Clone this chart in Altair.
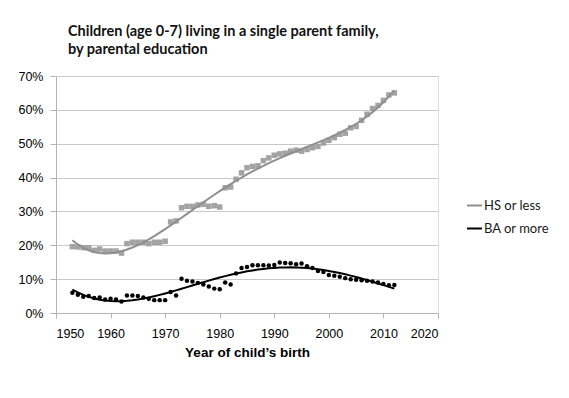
import altair as alt
import numpy as np
import pandas as pd

# ---- data ----
years = [1953, 1954, 1955, 1956, 1957, 1958, 1959, 1960, 1961, 1962,
         1963, 1964, 1965, 1966, 1967, 1968, 1969, 1970, 1971, 1972,
         1973, 1974, 1975, 1976, 1977, 1978, 1979, 1980, 1981, 1982,
         1983, 1984, 1985, 1986, 1987, 1988, 1989, 1990, 1991, 1992,
         1993, 1994, 1995, 1996, 1997, 1998, 1999, 2000, 2001, 2002,
         2003, 2004, 2005, 2006, 2007, 2008, 2009, 2010, 2011, 2012]

hs_or_less = [19.6, 19.5, 19.3, 19.3, 18.5, 18.9, 18.3, 18.3, 18.3, 17.7,
              20.5, 20.9, 20.9, 20.9, 20.5, 20.9, 20.9, 21.2, 26.9, 27.2,
              31.1, 31.5, 31.5, 31.9, 32.1, 31.5, 31.7, 31.3, 37.0, 37.2,
              39.5, 41.4, 42.9, 43.3, 43.5, 45.0, 45.8, 46.6, 47.0, 47.2,
              47.8, 48.1, 47.8, 48.3, 48.8, 49.2, 50.2, 51.0, 51.8, 52.8,
              53.1, 54.7, 55.1, 56.9, 58.7, 60.4, 61.3, 62.8, 64.4, 65.0]

ba_or_more = [6.0, 5.4, 4.8, 5.0, 4.4, 4.6, 4.0, 4.2, 4.0, 3.4,
              5.2, 5.2, 5.0, 4.6, 4.2, 3.8, 3.8, 3.8, 6.2, 5.2,
              10.1, 9.5, 9.3, 8.9, 8.4, 7.8, 7.2, 7.0, 9.0, 8.4,
              11.7, 13.3, 13.6, 14.1, 14.1, 14.1, 14.0, 14.2, 14.9, 14.8,
              14.7, 14.4, 14.6, 13.8, 13.3, 12.4, 12.1, 11.2, 11.0, 10.7,
              10.3, 10.0, 9.8, 9.7, 9.5, 9.3, 9.0, 8.6, 8.2, 8.3]

series_names = ["HS or less", "BA or more"]
x_ticks = [1950, 1960, 1970, 1980, 1990, 2000, 2010, 2020]
y_ticks = [0, 0.1, 0.2, 0.3, 0.4, 0.5, 0.6, 0.7]
title_lines = ["Children (age 0-7) living in a single parent family,",
               "by parental education"]
x_title = "Year of child\u2019s birth"

# observed points
rows = []
for yr, v in zip(years, hs_or_less):
    rows.append({"year": yr, "value": v / 100, "series": series_names[0]})
for yr, v in zip(years, ba_or_more):
    rows.append({"year": yr, "value": v / 100, "series": series_names[1]})
df = pd.DataFrame(rows)

# polynomial trendlines (order 4) fitted to the observed points
t = np.array(years, dtype=float) - 1980.0
trend_rows = []
for name, vals in zip(series_names, [hs_or_less, ba_or_more]):
    coef = np.polyfit(t, np.array(vals) / 100, 4)
    fitted = np.polyval(coef, t)
    for yr, f in zip(years, fitted):
        trend_rows.append({"year": yr, "value": float(f), "series": name})
trend_df = pd.DataFrame(trend_rows)

FONT = "Lato"
GRID = "#c8c8c8"
AXIS = "#b4b4b4"

x_enc = alt.X(
    "year:Q",
    scale=alt.Scale(domain=[1950, 2020], nice=False, zero=False),
    axis=alt.Axis(values=x_ticks, format="d", title=x_title, grid=False,
                  domainColor=AXIS, tickColor=AXIS, tickSize=5,
                  labelPadding=9, titlePadding=6, labelFontSize=12.5,
                  titleFontSize=13.5, titleFontWeight="bold"),
)
y_enc = alt.Y(
    "value:Q",
    scale=alt.Scale(domain=[0, 0.7], nice=False),
    axis=alt.Axis(values=y_ticks, format=".0%", title=None, grid=True,
                  gridColor=GRID, domainColor=AXIS, tickColor=AXIS,
                  tickSize=6, labelPadding=7, labelFontSize=12.5),
)

base = alt.Chart(df)

hs_points = base.transform_filter(
    alt.datum.series == series_names[0]
).mark_square(size=30, color="#a3a3a3", opacity=1).encode(x=x_enc, y=y_enc)

ba_points = base.transform_filter(
    alt.datum.series == series_names[1]
).mark_circle(size=20, color="#000000", opacity=1).encode(x=x_enc, y=y_enc)

color_enc = alt.Color(
    "series:N",
    scale=alt.Scale(domain=series_names, range=["#8f8f8f", "#000000"]),
    sort=series_names,
    legend=alt.Legend(
        title=None, orient="none", legendX=410, legendY=121,
        symbolType="stroke", symbolSize=225, symbolStrokeWidth=2,
        labelFontSize=13, labelFont=FONT, labelColor="#1a1a1a",
        labelOffset=1, rowPadding=7, padding=0,
    ),
)

trend = alt.Chart(trend_df).mark_line(strokeWidth=2).encode(
    x=x_enc, y=y_enc, color=color_enc,
    order=alt.Order("year:Q", sort="ascending"),
)

chart = (
    alt.layer(hs_points, ba_points, trend)
    .properties(
        width=382,
        height=237,
        autosize=alt.AutoSizeParams(type="none"),
        padding={"left": 48, "top": 68, "right": 123, "bottom": 77},
        title=alt.Title(
            text=title_lines, anchor="start", frame="group", dx=12,
            offset=1, baseline="alphabetic", lineHeight=18.3,
            fontSize=14.5, font=FONT, fontWeight="bold", color="#111111",
        ),
    )
    .configure_view(stroke=None)
    .configure_axis(labelFont=FONT, titleFont=FONT, labelColor="#1a1a1a",
                    titleColor="#111111")
    .configure(background="white")
)

chart.save("out.html", embed_options={"renderer": "svg", "actions": False})
